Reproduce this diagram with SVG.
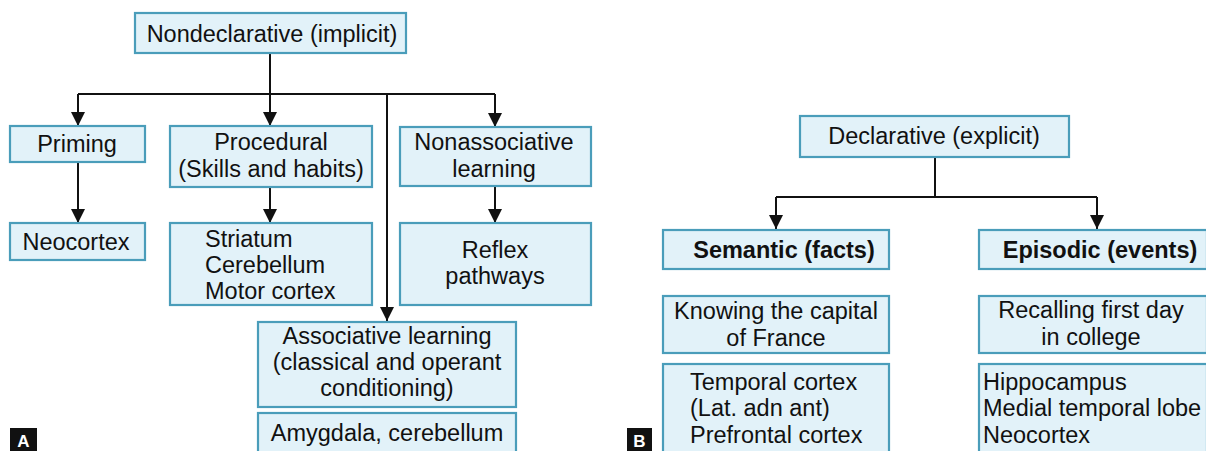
<svg xmlns="http://www.w3.org/2000/svg" width="1206" height="451" viewBox="0 0 1206 451">
<style>
.box{fill:#e2f2f9;stroke:#4a9dba;stroke-width:2.2}
.t{font-family:"Liberation Sans",Arial,sans-serif;font-size:23.5px;fill:#111}
.c{text-anchor:middle}
.b{font-weight:bold;font-size:23.5px}
.ln{stroke:#111;stroke-width:2;fill:none}
.lab{fill:#111}
.labt{font-family:"Liberation Sans",Arial,sans-serif;font-size:17px;font-weight:bold;fill:#fff;text-anchor:middle}
</style>
<defs>
<marker id="ah" viewBox="0 0 10 10" refX="10" refY="5" markerWidth="14" markerHeight="14" markerUnits="userSpaceOnUse" orient="auto">
<path d="M0,0 L10,5 L0,10 Z" fill="#111"/>
</marker>
</defs>
<rect width="1206" height="451" fill="#fff"/>
<g id="connectors">
<path class="ln" d="M270,53 V94 M78,94 H495"/>
<line class="ln" x1="78" y1="94" x2="78" y2="126" marker-end="url(#ah)"/>
<line class="ln" x1="270" y1="94" x2="270" y2="126" marker-end="url(#ah)"/>
<line class="ln" x1="495" y1="94" x2="495" y2="127" marker-end="url(#ah)"/>
<line class="ln" x1="387" y1="94" x2="387" y2="321" marker-end="url(#ah)"/>
<line class="ln" x1="78" y1="162" x2="78" y2="223" marker-end="url(#ah)"/>
<line class="ln" x1="270" y1="187" x2="270" y2="223" marker-end="url(#ah)"/>
<line class="ln" x1="495" y1="186" x2="495" y2="223" marker-end="url(#ah)"/>
<path class="ln" d="M935,157 V197 M776,197 H1097"/>
<line class="ln" x1="776" y1="197" x2="776" y2="229" marker-end="url(#ah)"/>
<line class="ln" x1="1097" y1="197" x2="1097" y2="229" marker-end="url(#ah)"/>
</g>
<g id="nondeclarative"><rect class="box" x="135" y="13" width="271" height="40"/><text class="t c" x="272" y="42">Nondeclarative (implicit)</text></g>
<g id="priming"><rect class="box" x="10" y="126" width="135" height="36"/><text class="t c" x="77" y="152">Priming</text></g>
<g id="procedural"><rect class="box" x="170" y="126" width="202" height="61"/><text class="t c" x="271" y="150">Procedural</text><text class="t c" x="271" y="177">(Skills and habits)</text></g>
<g id="nonassociative"><rect class="box" x="400" y="127" width="191" height="59"/><text class="t c" x="494" y="150">Nonassociative</text><text class="t c" x="494" y="177">learning</text></g>
<g id="neocortex"><rect class="box" x="10" y="223" width="135" height="37"/><text class="t c" x="76" y="250">Neocortex</text></g>
<g id="striatum"><rect class="box" x="170" y="223" width="202" height="82"/><text class="t" x="205" y="247">Striatum</text><text class="t" x="205" y="273">Cerebellum</text><text class="t" x="205" y="299">Motor cortex</text></g>
<g id="reflex"><rect class="box" x="400" y="223" width="191" height="82"/><text class="t c" x="495" y="258">Reflex</text><text class="t c" x="495" y="284">pathways</text></g>
<g id="associative"><rect class="box" x="258" y="322" width="258" height="85"/><text class="t c" x="387" y="344">Associative learning</text><text class="t c" x="387" y="370">(classical and operant</text><text class="t c" x="387" y="396">conditioning)</text></g>
<g id="amygdala"><rect class="box" x="258" y="413" width="258" height="44"/><text class="t c" x="387" y="441">Amygdala, cerebellum</text></g>
<g id="labelA"><rect class="lab" x="10" y="428" width="27" height="23"/><text class="labt" x="23.5" y="447">A</text></g>
<g id="declarative"><rect class="box" x="800" y="116" width="269" height="41"/><text class="t c" x="934" y="144">Declarative (explicit)</text></g>
<g id="semantic"><rect class="box" x="663" y="230" width="226" height="39"/><text class="t c b" x="784" y="258">Semantic (facts)</text></g>
<g id="episodic"><rect class="box" x="979" y="230" width="228" height="39"/><text class="t c b" x="1100" y="258">Episodic (events)</text></g>
<g id="knowing"><rect class="box" x="663" y="296" width="226" height="57"/><text class="t c" x="776" y="319">Knowing the capital</text><text class="t c" x="776" y="346">of France</text></g>
<g id="recalling"><rect class="box" x="979" y="296" width="228" height="57"/><text class="t c" x="1091" y="318">Recalling first day</text><text class="t c" x="1091" y="345">in college</text></g>
<g id="temporal"><rect class="box" x="663" y="364" width="226" height="93"/><text class="t" x="690" y="390">Temporal cortex</text><text class="t" x="690" y="416">(Lat. adn ant)</text><text class="t" x="690" y="443">Prefrontal cortex</text></g>
<g id="hippocampus"><rect class="box" x="979" y="364" width="228" height="93"/><text class="t" x="983" y="390">Hippocampus</text><text class="t" x="983" y="416">Medial temporal lobe</text><text class="t" x="983" y="443">Neocortex</text></g>
<g id="labelB"><rect class="lab" x="627" y="428" width="25" height="23"/><text class="labt" x="639.5" y="447">B</text></g>
</svg>
